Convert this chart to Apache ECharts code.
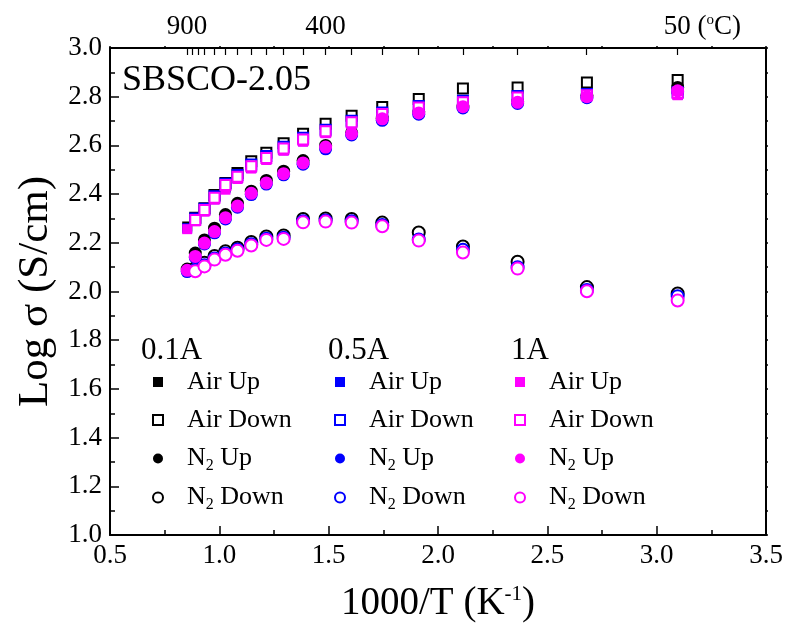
<!DOCTYPE html>
<html>
<head>
<meta charset="utf-8">
<script src="https://cdn.jsdelivr.net/npm/echarts@6/dist/echarts.min.js"></script>
<style>html,body{margin:0;padding:0;background:#fff}#c{width:787px;height:628px}</style>
</head>
<body>
<div id="c"></div>
<script>
// ---- data (x = 1000/T in K^-1, y = log sigma) ----
const xVals = [0.853,0.890,0.932,0.978,1.028,1.083,1.146,1.215,1.294,1.383,1.486,1.605,1.745,1.912,2.114,2.364,2.681,3.096];

const airUp_01 = [2.267,2.292,2.332,2.381,2.428,2.466,2.509,2.544,2.582,2.619,2.654,2.691,2.724,2.752,2.773,2.794,2.804,2.810];
const airDown_01 = [null,2.303,2.342,2.396,2.446,2.487,2.535,2.570,2.609,2.648,2.689,2.722,2.758,2.791,2.834,2.838,2.858,2.869];
const n2Up_01 = [2.092,2.158,2.212,2.260,2.316,2.362,2.412,2.456,2.494,2.538,2.600,2.652,2.712,2.738,2.762,2.780,2.805,2.838];
const n2Down_01 = [null,2.097,2.118,2.146,2.165,2.180,2.203,2.226,2.230,2.298,2.300,2.298,2.283,2.242,2.185,2.122,2.018,1.992];

const airUp_05 = [2.260,2.290,2.330,2.379,2.424,2.464,2.507,2.542,2.580,2.617,2.652,2.690,2.722,2.750,2.772,2.792,2.803,2.808];
const airDown_05 = [null,2.300,2.340,2.391,2.442,2.478,2.522,2.556,2.594,2.631,2.664,2.701,2.735,2.762,2.783,2.803,2.811,2.818];
const n2Up_05 = [2.082,2.140,2.195,2.241,2.298,2.346,2.398,2.441,2.479,2.523,2.586,2.643,2.703,2.728,2.754,2.772,2.796,2.820];
const n2Down_05 = [null,2.088,2.108,2.136,2.156,2.172,2.194,2.217,2.221,2.289,2.292,2.288,2.273,2.214,2.171,2.100,2.006,1.981];

const airUp_1 = [2.256,2.288,2.328,2.377,2.418,2.462,2.505,2.540,2.578,2.615,2.650,2.688,2.720,2.748,2.770,2.790,2.802,2.806];
const airDown_1 = [null,2.294,2.335,2.385,2.437,2.471,2.514,2.548,2.587,2.624,2.658,2.695,2.729,2.756,2.777,2.797,2.806,2.815];
const n2Up_1 = [2.087,2.144,2.199,2.246,2.303,2.351,2.403,2.446,2.484,2.528,2.593,2.648,2.709,2.733,2.759,2.777,2.800,2.824];
const n2Down_1 = [null,2.083,2.103,2.131,2.151,2.167,2.189,2.212,2.216,2.284,2.287,2.283,2.268,2.209,2.160,2.094,2.001,1.963];

const currents = ['0.1A','0.5A','1A'];
const kinds = ['Air Up','Air Down','N2 Up','N2 Down'];
const colors = ['#000000','#0000ff','#ff00ff'];
const symbols = ['rect','emptyRect','circle','emptyCircle'];
const seriesValues = [
  [airUp_01, airDown_01, n2Up_01, n2Down_01],
  [airUp_05, airDown_05, n2Up_05, n2Down_05],
  [airUp_1, airDown_1, n2Up_1, n2Down_1]
];
// top axis temperature ticks (deg C) and labelled ones
const topTickTemps = [900,870,835,800,750,700,650,600,550,500,450,400,350,300,250,200,150,100,50];
const topLabelTemps = [900,400,50];

const FONT = 'Liberation Serif';
const toX = t => 1000 / (t + 273.15);
const symbolSizes = [10, 10, 13, 12];

const series = [];
currents.forEach((c, ci) => {
  kinds.forEach((k, ki) => {
    const data = [];
    seriesValues[ci][ki].forEach((v, i) => { if (v !== null) data.push([xVals[i], v]); });
    const empty = symbols[ki].indexOf('empty') === 0;
    series.push({
      type: 'scatter',
      name: c + ' ' + k,
      data: data,
      symbol: symbols[ki],
      symbolSize: symbolSizes[ki],
      xAxisIndex: 0, yAxisIndex: 0,
      itemStyle: empty ? {color: colors[ci], borderColor: colors[ci], borderWidth: 1.3, opacity: 1}
                       : {color: colors[ci], borderWidth: 0, opacity: 1},
      emphasis: {disabled: true},
      silent: true
    });
  });
});

const legendCols = [147, 329, 509];
const legends = currents.map((c, ci) => ({
  orient: 'vertical',
  left: legendCols[ci],
  top: 362,
  itemWidth: 10,
  itemHeight: 10,
  itemGap: 8,
  selectedMode: false,
  data: kinds.map(k => c + ' ' + k),
  formatter: name => name.replace(/^\S+ /, '').replace('N2', 'N{sub|2}'),
  textStyle: {
    fontFamily: FONT, fontSize: 26, color: '#000', lineHeight: 30, padding: [0, 0, 0, 19],
    rich: { sub: {fontFamily: FONT, fontSize: 16, verticalAlign: 'bottom', lineHeight: 31} }
  }
}));

const headerX = [136, 323, 506];
const titles = [{
  text: 'SBSCO-2.05', left: 117, top: 58,
  textStyle: {fontFamily: FONT, fontSize: 36, fontWeight: 'normal', color: '#000'}
}].concat(currents.map((c, ci) => ({
  text: c, left: headerX[ci], top: 330,
  textStyle: {fontFamily: FONT, fontSize: 31, fontWeight: 'normal', color: '#000'}
})));

const axisLineStyle = {color: '#000', width: 2};
const option = {
  animation: false,
  backgroundColor: '#fff',
  title: titles,
  legend: legends,
  grid: {left: 110, right: 21, top: 48, bottom: 93, containLabel: false},
  xAxis: [
    {
      type: 'value', position: 'bottom', min: 0.5, max: 3.5, interval: 0.5,
      name: '1000/T (K{sup|-1})', nameLocation: 'middle', nameGap: 49,
      nameTextStyle: {fontFamily: FONT, fontSize: 39, color: '#000',
        rich: {sup: {fontFamily: FONT, fontSize: 21, verticalAlign: 'top', lineHeight: 39}}},
      axisLine: {lineStyle: axisLineStyle},
      axisTick: {inside: true, length: 9, lineStyle: {color: '#000', width: 1.5}},
      minorTick: {show: true, splitNumber: 2, length: 5, lineStyle: {color: '#000', width: 1.5}},
      axisLabel: {fontFamily: FONT, fontSize: 27, color: '#000', margin: 7, formatter: v => v.toFixed(1)},
      splitLine: {show: false}
    },
    {
      type: 'value', position: 'top', min: 0.5, max: 3.5,
      axisLine: {lineStyle: axisLineStyle},
      axisTick: {inside: true, length: 7, customValues: topTickTemps.map(toX), lineStyle: {color: '#000', width: 1.2}},
      axisLabel: {
        fontFamily: FONT, fontSize: 27, color: '#000', margin: 8,
        customValues: topLabelTemps.map(toX),
        formatter: v => {
          const t = Math.round(1000 / v - 273.15);
          if (t === 50) return '{h| (}{hs|o}{h|C)}50 ({s|o}C)';
          return String(t);
        },
        rich: {
          h: {fontFamily: FONT, fontSize: 27, color: 'rgba(0,0,0,0)'},
          hs: {fontFamily: FONT, fontSize: 15, color: 'rgba(0,0,0,0)', verticalAlign: 'top'},
          s: {fontFamily: FONT, fontSize: 15, color: '#000', verticalAlign: 'top'}
        }
      },
      splitLine: {show: false}
    },
    {
      type: 'value', position: 'top', min: 0.5, max: 3.5, interval: 0.25,
      axisLine: {show: false},
      axisTick: {inside: false, length: 2, lineStyle: {color: '#000', width: 1.5}},
      axisLabel: {show: false},
      splitLine: {show: false}
    }
  ],
  yAxis: [
    {
      type: 'value', position: 'left', min: 1.0, max: 3.0, interval: 0.2,
      name: 'Log σ (S/cm)', nameLocation: 'middle', nameGap: 53, nameRotate: 90,
      nameTextStyle: {fontFamily: FONT, fontSize: 43, color: '#000'},
      axisLine: {lineStyle: axisLineStyle},
      axisTick: {inside: true, length: 9, lineStyle: {color: '#000', width: 1.5}},
      minorTick: {show: true, splitNumber: 2, length: 5, lineStyle: {color: '#000', width: 1.5}},
      axisLabel: {fontFamily: FONT, fontSize: 27, color: '#000', margin: 8, formatter: v => v.toFixed(1)},
      splitLine: {show: false}
    },
    {
      type: 'value', position: 'right', min: 1.0, max: 3.0, interval: 0.1,
      axisLine: {lineStyle: axisLineStyle},
      axisTick: {inside: false, length: 2, lineStyle: {color: '#000', width: 1.5}},
      axisLabel: {show: false},
      splitLine: {show: false}
    }
  ],
  series: series
};

const chart = echarts.init(document.getElementById('c'), null, {renderer: 'canvas'});
chart.setOption(option);
</script>
</body>
</html>
